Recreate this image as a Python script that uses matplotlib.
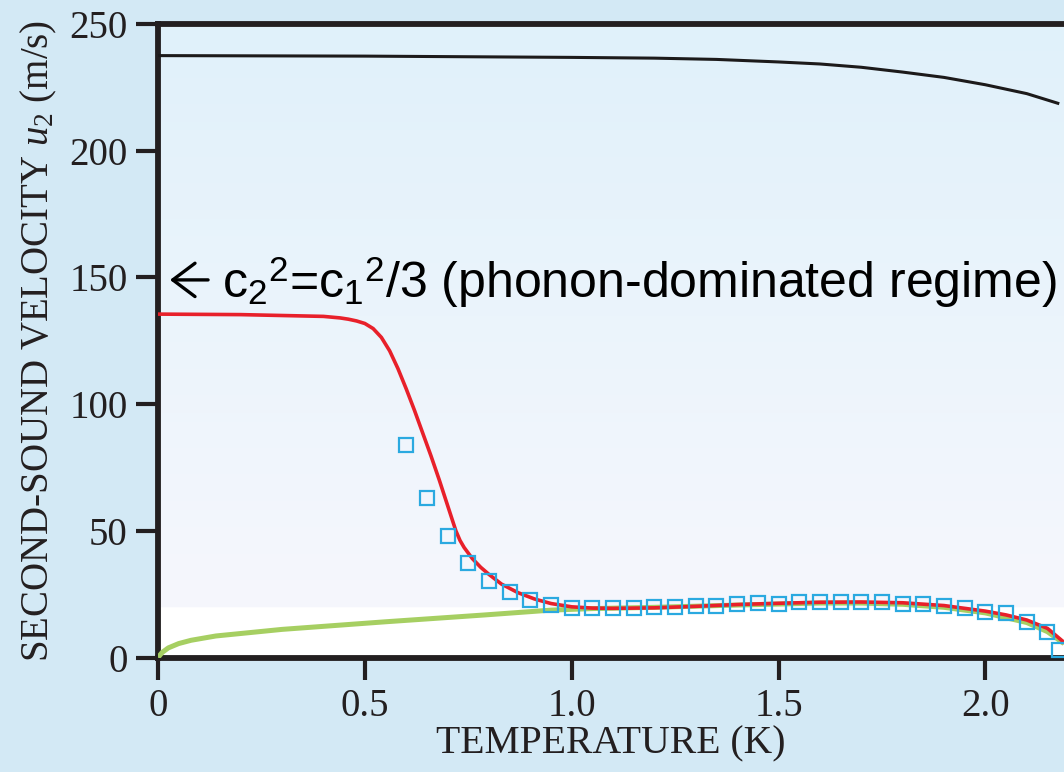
import numpy as np
import matplotlib
matplotlib.use("Agg")
import matplotlib.pyplot as plt

plt.rcParams["mathtext.fontset"] = "custom"
plt.rcParams["mathtext.rm"] = "Liberation Sans"
plt.rcParams["mathtext.it"] = "Liberation Serif:italic"
plt.rcParams["mathtext.sf"] = "Liberation Serif"

# first-sound-like upper curve (black)
t_black = [0, 0.5, 1.0, 1.2, 1.35, 1.5, 1.6, 1.7, 1.8, 1.9, 2.0, 2.1, 2.175]
u_black = [237.5, 237.3, 236.8, 236.5, 236.0, 235.0, 234.2, 232.9, 231.0,
           228.9, 226.0, 222.5, 218.7]

# theory curve (red)
t_red = [0, 0.2, 0.4, 0.44, 0.46, 0.48, 0.5, 0.52, 0.54, 0.56, 0.58, 0.6,
         0.62, 0.64, 0.66, 0.68, 0.7, 0.71, 0.72, 0.73, 0.74, 0.76, 0.78,
         0.8, 0.83, 0.87, 0.91, 0.95, 1.0, 1.05, 1.1, 1.2, 1.3, 1.4, 1.5,
         1.6, 1.7, 1.8, 1.9, 2.0, 2.05, 2.1, 2.15, 2.19]
u_red = [135.5, 135.3, 134.6, 134.0, 133.5, 132.8, 131.8, 129.8, 126.3,
         121.0, 114.0, 106.0, 97.5, 88.5, 79.5, 70.0, 60.0, 55.0, 50.0, 46.2,
         43.4, 39.0, 35.6, 32.8, 29.0, 25.6, 23.1, 21.3, 20.0, 19.5, 19.4,
         19.6, 20.2, 20.9, 21.4, 21.8, 21.9, 21.6, 20.5, 18.3, 16.8, 14.8,
         11.5, 6.0]

# lower curve (green)
t_green = [0, 0.01, 0.025, 0.05, 0.08, 0.14, 0.3, 0.55, 0.79, 0.95, 1.05,
           1.2, 1.4, 1.6, 1.7, 1.8, 1.9, 2.0, 2.1, 2.15, 2.19]
u_green = [0, 2.0, 3.8, 5.5, 6.8, 8.5, 11.1, 14.1, 16.8, 18.7, 19.3, 19.8,
           20.7, 21.5, 21.5, 21.0, 19.8, 17.6, 13.8, 10.2, 5.5]

# measured points (blue squares)
t_meas = [0.6, 0.65, 0.7, 0.75, 0.8, 0.85, 0.9, 0.95, 1.0, 1.05, 1.1, 1.15,
          1.2, 1.25, 1.3, 1.35, 1.4, 1.45, 1.5, 1.55, 1.6, 1.65, 1.7, 1.75,
          1.8, 1.85, 1.9, 1.95, 2.0, 2.05, 2.1, 2.15, 2.178]
u_meas = [83.9, 63.1, 47.9, 37.4, 30.2, 25.7, 22.6, 20.7, 19.7, 19.7, 19.7,
          19.4, 19.8, 19.9, 20.4, 20.4, 21.0, 21.4, 21.1, 21.8, 21.8, 21.8,
          21.8, 21.8, 21.1, 21.1, 20.4, 19.4, 18.1, 17.7, 14.1, 10.2, 3.0]

x_ticks = [0, 0.5, 1.0, 1.5, 2.0]
x_ticklabels = ["0", "0.5", "1.0", "1.5", "2.0"]
y_ticks = [0, 50, 100, 150, 200, 250]

fig = plt.figure(figsize=(10.64, 7.72), dpi=100, facecolor="#d3e9f5")
ax = fig.add_axes([0.1485, 0.1483, 0.8515, 0.8207])

xmax = 2.19
# background gradient: light blue at top, white near bottom
yy = np.linspace(250, 0, 500)
top = np.array([224, 241, 250]) / 255
low = np.array([246, 247, 253]) / 255
frac = np.clip((yy - 20) / 230, 0, 1)[:, None]
grad = low + (top - low) * frac
grad[yy < 20] = 1.0
ax.imshow(grad[:, None, :].repeat(2, axis=1), extent=[0, xmax, 0, 250],
          aspect="auto", zorder=0, interpolation="bilinear")

ax.plot(t_black, u_black, color="#1c1a1a", lw=2.2, zorder=3)
ax.plot(t_green, u_green, color="#a6cf62", lw=3.6, zorder=3, solid_capstyle="butt")
ax.plot(t_red, u_red, color="#e8202a", lw=2.6, zorder=4)
ax.plot(t_meas, u_meas, ls="none", marker="s", ms=10.5, mfc="none",
        mec="#2aa9e0", mew=1.6, zorder=5, clip_on=False)

ax.set_xlim(0, xmax)
ax.set_ylim(0, 250)

for side in ["left", "top", "bottom"]:
    ax.spines[side].set_linewidth(4.2)
    ax.spines[side].set_color("#231f20")
ax.spines["right"].set_visible(False)

ax.set_xticks(x_ticks)
ax.set_xticklabels(x_ticklabels)
ax.set_yticks(y_ticks)
ax.tick_params(direction="out", length=16, width=3, color="#231f20",
               labelsize=28, pad=6)
for lab in ax.get_xticklabels() + ax.get_yticklabels():
    lab.set_family("Liberation Serif")
    lab.set_color("#231f20")

ax.set_xlabel("TEMPERATURE (K)", family="Liberation Serif", fontsize=28.5,
              color="#231f20", labelpad=0)
ax.set_ylabel(r"SECOND-SOUND VELOCITY $u_\mathsf{2}$ (m/s)",
              family="Liberation Serif", fontsize=28, color="#231f20",
              labelpad=7)

# arrow pointing at the axis, then the label text
ax.annotate("", xy=(0.029, 149), xytext=(0.121, 149),
            arrowprops=dict(arrowstyle="->, head_length=0.8, head_width=0.6",
                            lw=2.4, color="black", shrinkA=0, shrinkB=0,
                            mutation_scale=20), zorder=6)
ax.text(0.155, 142, "c$_2$$^2$=c$_1$$^2$/3 (phonon-dominated regime)",
        family=["Liberation Sans", "DejaVu Sans"], fontsize=36, color="black",
        va="baseline", ha="left", zorder=6)

fig.savefig("out.png", dpi=100, facecolor=fig.get_facecolor())
